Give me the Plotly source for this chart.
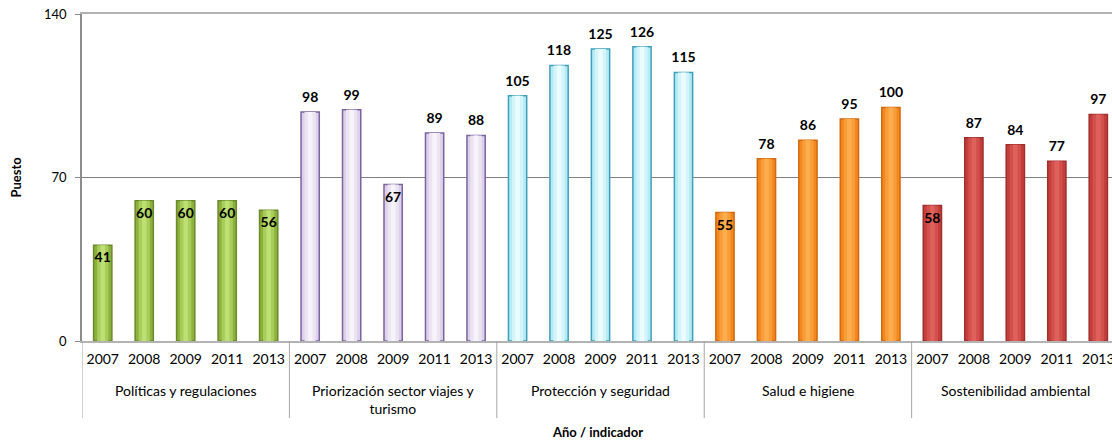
import plotly.graph_objects as go

groups = ["Políticas y regulaciones", "Priorización sector viajes y<br>turismo",
          "Protección y seguridad", "Salud e higiene", "Sostenibilidad ambiental"]
years = ["2007", "2008", "2009", "2011", "2013"]
politicas = [41, 60, 60, 60, 56]
priorizacion = [98, 99, 67, 89, 88]
proteccion = [105, 118, 125, 126, 115]
salud = [55, 78, 86, 95, 100]
sostenibilidad = [58, 87, 84, 77, 97]
# labels drawn inside the bar top in the reference: (group index, year)
inside_labels = {(0, "2007"), (0, "2008"), (0, "2009"), (0, "2011"), (0, "2013"),
                 (1, "2009"), (3, "2007"), (4, "2007")}

series = [politicas, priorizacion, proteccion, salud, sostenibilidad]
# (edge, body, center, core) colours per group
palette = [
    ("#6a8a2c", "#8db13c", "#a9cd5a", "#bddf74"),
    ("#7d62a0", "#dcd1ea", "#ebe5f3", "#f6f3fa"),
    ("#3f9fba", "#b4ebf5", "#d3f5fa", "#eafcfe"),
    ("#d2690c", "#f2881f", "#f89d3a", "#fcae4f"),
    ("#9e2f2c", "#c43f3c", "#d3504c", "#de615c"),
]

xs, ticktext, vals, edge, body, center, core, tpos = [], [], [], [], [], [], [], []
i = 0
for gi, (s, p) in enumerate(zip(series, palette)):
    for y, v in zip(years, s):
        xs.append(i); ticktext.append(y); vals.append(v)
        edge.append(p[0]); body.append(p[1]); center.append(p[2]); core.append(p[3])
        tpos.append("bottom center" if (gi, y) in inside_labels else "top center")
        i += 1
n_per = len(years)

fig = go.Figure()
fig.add_trace(go.Bar(x=xs, y=vals, width=0.44,
                     marker=dict(color=body, line=dict(color=edge, width=1.5)),
                     hoverinfo="skip"))
fig.add_trace(go.Bar(x=xs, y=vals, width=0.27,
                     marker=dict(color=center, line=dict(width=0)), hoverinfo="skip"))
fig.add_trace(go.Bar(x=xs, y=vals, width=0.11,
                     marker=dict(color=core, line=dict(width=0)), hoverinfo="skip"))
fig.add_trace(go.Scatter(x=xs, y=vals, mode="markers+text", text=[str(v) for v in vals],
                         textposition=tpos,
                         marker=dict(size=9, color="rgba(0,0,0,0)"),
                         textfont=dict(family="Lato", size=14, color="#000000", weight="bold"),
                         hoverinfo="skip", cliponaxis=False))

W, H = 1112, 441
mt, mb, ml = 14, 100, 82
axis_px = H - mt - mb
shapes = []
for gi in range(len(groups) + 1):
    shapes.append(dict(type="line", xref="x", yref="paper",
                       x0=gi * n_per - 0.5, x1=gi * n_per - 0.5,
                       y0=0, y1=-77 / axis_px, line=dict(color="#a6a6a6", width=1)))

annotations = []
for gi, g in enumerate(groups):
    annotations.append(dict(text=g, xref="x", yref="paper", x=gi * n_per + (n_per - 1) / 2,
                            y=0, yanchor="top", yshift=-39, showarrow=False,
                            font=dict(family="Lato", size=14, color="#000000")))
annotations.append(dict(text="<b>Año / indicador</b>", xref="paper", yref="paper", x=0.5, y=0,
                        yanchor="middle", yshift=-91, showarrow=False,
                        font=dict(family="Lato", size=13, color="#000000")))
annotations.append(dict(text="<b>Puesto</b>", xref="paper", yref="paper", x=0, y=0.5,
                        xanchor="center", xshift=-67, textangle=-90, showarrow=False,
                        font=dict(family="Lato", size=13, color="#000000")))

fig.update_layout(
    width=W, height=H,
    margin=dict(l=ml, r=0, t=mt, b=mb),
    barmode="overlay", showlegend=False,
    plot_bgcolor="white", paper_bgcolor="white",
    font=dict(family="Lato", size=14, color="#000000"),
    shapes=shapes, annotations=annotations,
)
fig.update_xaxes(range=[-0.5, 24.33], tickvals=xs, ticktext=ticktext, showline=True,
                 linecolor="#b3b3b3", linewidth=1.5, mirror=True, ticks="", showgrid=False,
                 zeroline=False, automargin=False, ticklabelstandoff=4,
                 ticklabeloverflow="allow",
                 tickfont=dict(family="Lato", size=14, color="#000000"))
fig.update_yaxes(range=[0, 140], tickvals=[0, 70, 140], showgrid=True, gridcolor="#7f7f7f",
                 gridwidth=1, showline=True, linecolor="#8c8c8c", linewidth=1.5,
                 ticks="outside", ticklen=5, tickcolor="#8c8c8c", zeroline=False,
                 automargin=False, ticklabelstandoff=6, ticklabeloverflow="allow",
                 tickfont=dict(family="Lato", size=13, color="#000000"))

fig.write_html("out.html", config={"displayModeBar": False},
               post_script="document.body.style.margin='0';document.body.style.overflow='hidden';")
